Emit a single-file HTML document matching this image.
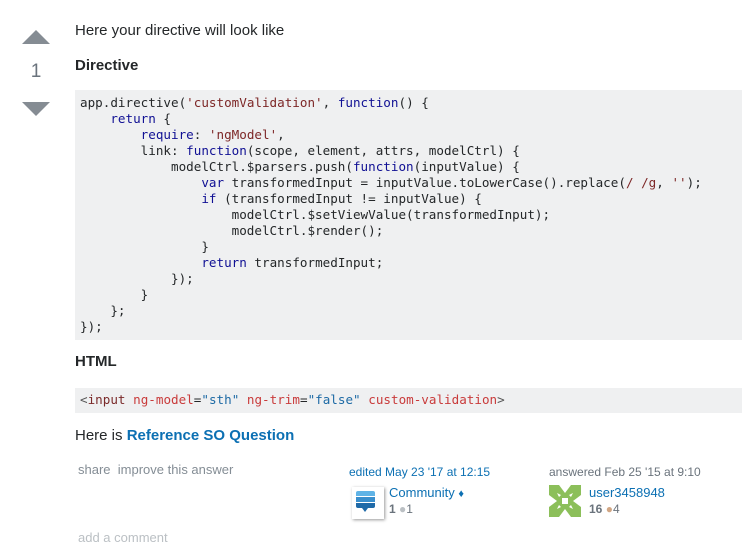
<!DOCTYPE html>
<html><head><meta charset="utf-8"><style>
body{margin:0;width:744px;height:548px;background:#fff;font-family:"Liberation Sans",Arial,sans-serif;color:#242729;position:relative;overflow:hidden}
.a{position:absolute;white-space:pre}
pre{margin:0;font-family:"DejaVu Sans Mono",monospace;font-size:12.6px;line-height:16px;color:#242729}
.k{color:#101094}.s{color:#7d2727}
.r{color:#c93b3b}.b{color:#1d6aa5}
.lnk{color:#0c70b3}
</style></head><body>
<div class="a" style="left:22px;top:30px;width:0;height:0;border-left:14px solid transparent;border-right:14px solid transparent;border-bottom:14px solid #858c93"></div>
<div class="a" style="left:0;width:72px;top:61px;text-align:center;font-size:19px;color:#6a737c">1</div>
<div class="a" style="left:22px;top:102px;width:0;height:0;border-left:14px solid transparent;border-right:14px solid transparent;border-top:14px solid #858c93"></div>

<div class="a" style="left:75px;top:22px;font-size:15px">Here your directive will look like</div>
<div class="a" style="left:75px;top:57px;font-size:15px;font-weight:bold">Directive</div>
<div class="a" style="left:75px;top:90px;width:667px;height:250px;background:#eff0f1"></div>
<pre class="a" style="left:80px;top:95px">app.directive(<span class="s">'customValidation'</span>, <span class="k">function</span>() {
    <span class="k">return</span> {
        <span class="k">require</span>: <span class="s">'ngModel'</span>,
        link: <span class="k">function</span>(scope, element, attrs, modelCtrl) {
            modelCtrl.$parsers.push(<span class="k">function</span>(inputValue) {
                <span class="k">var</span> transformedInput = inputValue.toLowerCase().replace(<span class="s">/ /g</span>, <span class="s">''</span>);
                <span class="k">if</span> (transformedInput != inputValue) {
                    modelCtrl.$setViewValue(transformedInput);
                    modelCtrl.$render();
                }
                <span class="k">return</span> transformedInput;
            });
        }
    };
});</pre>
<div class="a" style="left:75px;top:353px;font-size:15px;font-weight:bold">HTML</div>
<div class="a" style="left:75px;top:388px;width:667px;height:25px;background:#eff0f1"></div>
<pre class="a" style="left:80px;top:392px"><span style="color:#555">&lt;</span><span style="color:#7a2a2a">input</span> <span class="r">ng-model</span>=<span class="b">"sth"</span> <span class="r">ng-trim</span>=<span class="b">"false"</span> <span class="r">custom-validation</span><span style="color:#555">&gt;</span></pre>
<div class="a" style="left:75px;top:427px;font-size:15px">Here is <b class="lnk">Reference SO Question</b></div>

<div class="a" style="left:78px;top:462px;font-size:13px;color:#848d95">share  improve this answer</div>
<div class="a lnk" style="left:349px;top:465px;font-size:12px">edited May 23 '17 at 12:15</div>
<div class="a" style="left:352px;top:487px;width:32px;height:32px;background:#fff;box-shadow:1px 1px 3px #999"></div>
<div class="a" style="left:356px;top:491px;width:19px;height:5px;background:#5fb3e6;border-radius:2px 2px 0 0"></div>
<div class="a" style="left:356px;top:497px;width:19px;height:5px;background:#3a8fcd"></div>
<div class="a" style="left:356px;top:503px;width:19px;height:5px;background:#1f6aa8;border-radius:0 0 2px 2px"></div>
<div class="a" style="left:362px;top:508px;width:0;height:0;border-left:3px solid transparent;border-right:3px solid transparent;border-top:4px solid #1f6aa8"></div>
<div class="a lnk" style="left:389px;top:485px;font-size:13px">Community <span style="font-size:11px">♦</span></div>
<div class="a" style="left:389px;top:502px;font-size:12px;color:#6a737c"><b>1</b> <span style="color:#bbc0c4">●</span>1</div>

<div class="a" style="left:549px;top:465px;font-size:12px;color:#6a737c">answered Feb 25 '15 at 9:10</div>
<svg class="a" style="left:549px;top:485px" width="32" height="32" viewBox="0 0 32 32"><rect width="32" height="32" fill="#fff"/><g fill="#8cbf5a"><polygon points="0,0 10,0 16,8 22,0 32,0 32,10 24,16 32,22 32,32 22,32 16,24 10,32 0,32 0,22 8,16 0,10"/></g><g fill="#fff"><rect x="13" y="13" width="6" height="6"/><polygon points="8,8 12,10 10,12"/><polygon points="24,8 20,10 22,12"/><polygon points="8,24 12,22 10,20"/><polygon points="24,24 20,22 22,20"/></g></svg>
<div class="a lnk" style="left:589px;top:485px;font-size:13px">user3458948</div>
<div class="a" style="left:589px;top:502px;font-size:12px;color:#6a737c"><b>16</b> <span style="color:#d1a684">●</span>4</div>

<div class="a" style="left:78px;top:530px;font-size:13px;color:#bbc0c4">add a comment</div>
</body></html>
